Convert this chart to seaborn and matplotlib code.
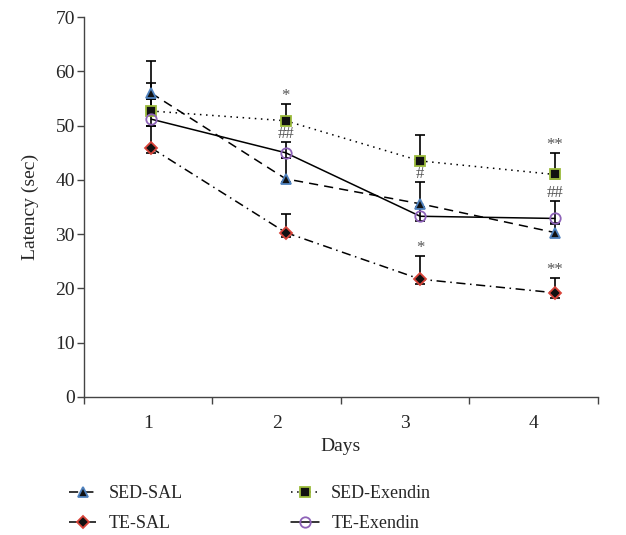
import numpy as np
import matplotlib
matplotlib.use("Agg")
import matplotlib.pyplot as plt
import seaborn as sns

days = [1, 2, 3, 4]
day_labels = ["1", "2", "3", "4"]

sed_sal = [56.0, 40.2, 35.6, 30.3]
sed_sal_up = [6.0, 3.8, 4.1, 1.6]
sed_sal_dn = [1.1, 0.6, 0.6, 0.9]

te_sal = [45.9, 30.3, 21.7, 19.2]
te_sal_up = [4.0, 3.5, 4.3, 2.8]
te_sal_dn = [0.9, 0.9, 0.9, 0.9]

sed_ex = [52.7, 50.9, 43.5, 41.0]
sed_ex_up = [5.2, 3.1, 4.8, 4.0]
sed_ex_dn = [0.8, 0.8, 0.8, 0.8]

te_ex = [51.2, 45.0, 33.3, 32.9]
te_ex_up = [3.7, 1.9, 1.5, 3.2]
te_ex_dn = [1.3, 0.9, 0.8, 0.9]

# significance marks: (series, day index, text)
marks = [("SED-Exendin", 1, "*"), ("TE-Exendin", 1, "##"),
         ("SED-SAL", 2, "#"), ("TE-SAL", 2, "*"),
         ("SED-Exendin", 3, "**"), ("TE-Exendin", 3, "##"), ("TE-SAL", 3, "**")]

sns.set_theme(style="ticks")
plt.rcParams['font.family'] = ['Liberation Serif', 'DejaVu Serif']

fig = plt.figure(figsize=(6.26, 5.35), dpi=100)
ax = fig.add_axes([0.134, 0.258, 0.821, 0.71])

series = [
    ("SED-SAL", sed_sal, sed_sal_up, sed_sal_dn, "^", "#111111", "#4f81bd", (0, (6, 4)), 7.5),
    ("TE-SAL", te_sal, te_sal_up, te_sal_dn, "D", "#111111", "#d9443a", (0, (6, 3, 1, 3)), 6),
    ("SED-Exendin", sed_ex, sed_ex_up, sed_ex_dn, "s", "#111111", "#9bbb3b", (0, (1, 3)), 7),
    ("TE-Exendin", te_ex, te_ex_up, te_ex_dn, "o", "none", "#8e63b8", "-", 7.5),
]
lookup = {}
for name, vals, up, dn, mk, fc, ec, ls, ms in series:
    ax.errorbar(days, vals, yerr=[dn, up], fmt="none", ecolor="black",
                elinewidth=1.2, capsize=3.5, capthick=1.2, zorder=2)
    sns.lineplot(x=days, y=vals, ax=ax, color="black", linewidth=1.1,
                 linestyle=ls, marker=mk, markersize=ms, markerfacecolor=fc,
                 markeredgecolor=ec, markeredgewidth=1.3, label=name, zorder=3)
    lookup[name] = (vals, up)

for name, i, txt in marks:
    vals, up = lookup[name]
    ax.annotate(txt, (days[i], vals[i] + up[i]), xytext=(0, 0),
                textcoords="offset points", ha="center", va="bottom",
                fontsize=12, color="#555555")

xlo, xhi = 0.5, 4.32
edges = np.linspace(xlo, xhi, 5)
centers = (edges[:-1] + edges[1:]) / 2
ax.set_xlim(xlo, xhi)
ax.set_ylim(0, 70)
ax.set_yticks(range(0, 71, 10))
ax.set_xticks(centers)
ax.set_xticklabels(day_labels)
ax.set_xticks(edges, minor=True)
ax.tick_params(axis="x", which="major", length=0, pad=13, labelsize=14)
ax.tick_params(axis="x", which="minor", length=5, width=1, direction="out", color="#444444")
ax.tick_params(axis="y", length=5, width=1, pad=1.5, direction="out", labelsize=14, color="#444444")
for s in ["left", "bottom"]:
    ax.spines[s].set_color("#444444")
    ax.spines[s].set_linewidth(1)
sns.despine(ax=ax)

ax.set_xlabel("Days", fontsize=14, labelpad=4)
ax.set_ylabel("Latency (sec)", fontsize=14, labelpad=12)

ax.legend(loc="upper left", bbox_to_anchor=(-0.06, -0.19), ncol=2, frameon=False,
          fontsize=13, handlelength=1.5, columnspacing=6.0, labelspacing=0.7,
          handletextpad=0.7)

fig.savefig("out.png", dpi=100)
